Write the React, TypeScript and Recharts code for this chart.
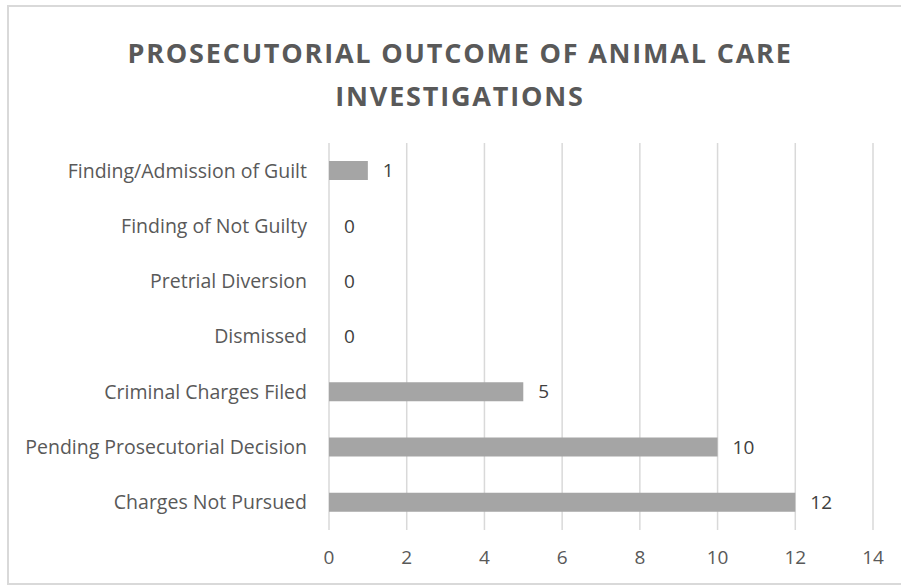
import React from 'react';
import { BarChart, Bar, XAxis, YAxis, CartesianGrid, LabelList } from 'recharts';

const categories = [
  'Finding/Admission of Guilt',
  'Finding of Not Guilty',
  'Pretrial Diversion',
  'Dismissed',
  'Criminal Charges Filed',
  'Pending Prosecutorial Decision',
  'Charges Not Pursued',
];
const counts = [1, 0, 0, 0, 5, 10, 12];
const xTicks = [0, 2, 4, 6, 8, 10, 12, 14];
const titleLines = ['PROSECUTORIAL OUTCOME OF ANIMAL CARE', 'INVESTIGATIONS'];

const data = categories.map((name, i) => ({ name, value: counts[i] }));

const FONT = '"Open Sans", "Segoe UI", sans-serif';

const ValueLabel = (props: any) => {
  const { x, y, width, height, value } = props;
  const xx = Number(x) + Math.max(Number(width || 0), 0) + 15;
  const yy = Number(y) + Number(height || 0) / 2;
  return (
    <text x={xx} y={yy} dy="0.355em" fill="#404040" fontSize={19} fontFamily={FONT} textAnchor="start">
      {String(value)}
    </text>
  );
};

export default function App() {
  return (
    <div style={{ position: 'absolute', left: 0, top: 0, width: 901, height: 588, background: '#fff', fontFamily: FONT }}>
      <div
        style={{
          position: 'absolute',
          left: 7,
          top: 5,
          width: 900,
          height: 580,
          border: '2px solid #d9d9d9',
          boxSizing: 'border-box',
        }}
      />
      <div
        style={{
          position: 'absolute',
          left: 10,
          top: 31,
          width: 900,
          textAlign: 'center',
          color: '#595959',
          fontWeight: 700,
          fontSize: 27,
          letterSpacing: 1.8,
          lineHeight: '43px',
        }}
      >
        {titleLines.map((t) => (
          <div key={t}>{t}</div>
        ))}
      </div>
      <div style={{ position: 'absolute', left: 0, top: 0 }}>
        <BarChart
          width={901}
          height={588}
          data={data}
          layout="vertical"
          margin={{ top: 143, right: 28, bottom: 0, left: 0 }}
          barCategoryGap={0}
        >
          <CartesianGrid horizontal={false} stroke="#d9d9d9" strokeWidth={1.5} />
          <XAxis
            type="number"
            domain={[0, 14]}
            ticks={xTicks}
            axisLine={false}
            tickLine={false}
            tickSize={0}
            tickMargin={21}
            height={58}
            tick={{ fill: '#595959', fontSize: 19, fontFamily: FONT }}
          />
          <YAxis
            type="category"
            dataKey="name"
            width={329}
            axisLine={false}
            tickLine={false}
            tickSize={0}
            tickMargin={22}
            interval={0}
            tick={{ fill: '#595959', fontSize: 19.5, fontFamily: FONT }}
          />
          <Bar
            dataKey="value"
            fill="#a5a5a5"
            barSize={19}
            minPointSize={(v: number) => (v === 0 ? 0.01 : 0)}
            isAnimationActive={false}
          >
            <LabelList dataKey="value" content={ValueLabel} />
          </Bar>
        </BarChart>
      </div>
    </div>
  );
}
